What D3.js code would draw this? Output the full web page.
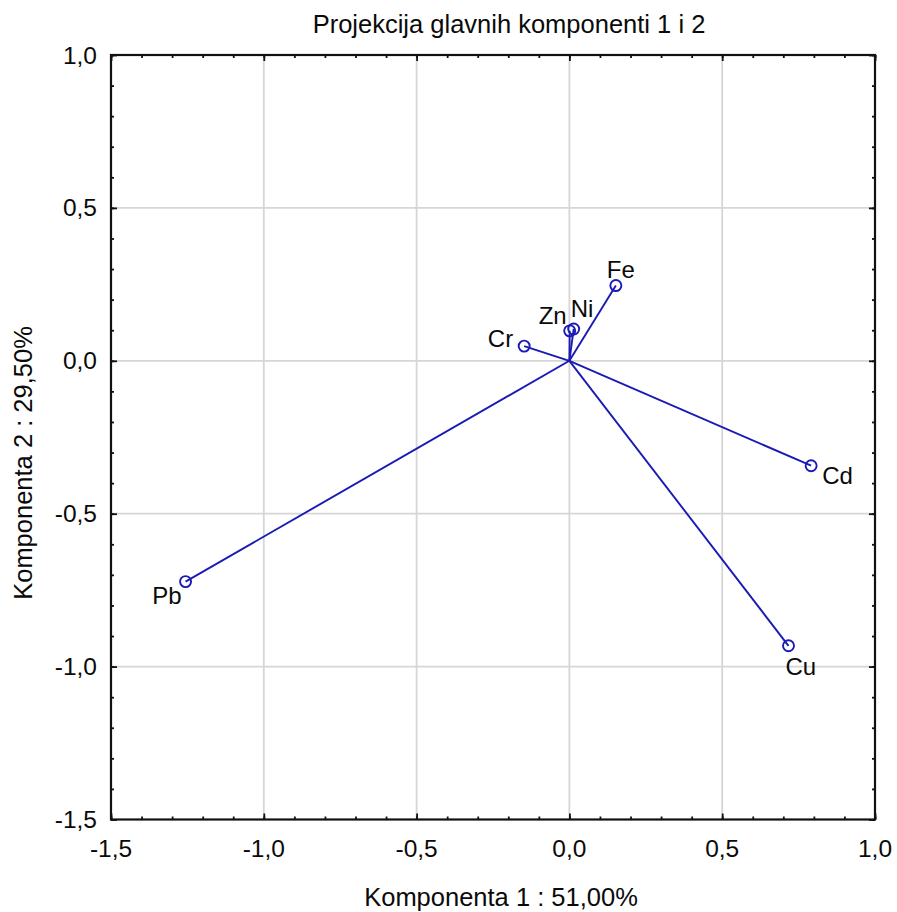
<!DOCTYPE html>
<html>
<head>
<meta charset="utf-8">
<script src="https://cdn.jsdelivr.net/npm/d3@7"></script>
<style>
  html, body { margin: 0; padding: 0; background: #fff; }
  text { font-family: "Liberation Sans", Arial, sans-serif; fill: #0a0a0a; }
</style>
</head>
<body>
<svg id="chart" width="897" height="912"></svg>
<script>
// ---- data ----
const variables = ["Pb", "Cu", "Cd", "Fe", "Cr", "Zn", "Ni"];
const comp1 = [-1.256, 0.717, 0.791, 0.152, -0.148, 0.001, 0.014];
const comp2 = [-0.722, -0.932, -0.343, 0.246, 0.048, 0.098, 0.104];
const xTicks = [-1.5, -1.0, -0.5, 0.0, 0.5, 1.0];
const yTicks = [-1.5, -1.0, -0.5, 0.0, 0.5, 1.0];
const titleText = "Projekcija glavnih komponenti 1 i 2";
const xTitle = "Komponenta 1 : 51,00%";
const yTitle = "Komponenta 2 : 29,50%";

// label placement (offsets from point, anchor)
const labelPos = {
  Pb: { dx: -4, dy: 22, anchor: "end" },
  Cu: { dx: -3, dy: 29, anchor: "start" },
  Cd: { dx: 11, dy: 18, anchor: "start" },
  Fe: { dx: -9, dy: -8, anchor: "start" },
  Cr: { dx: -11, dy: 1, anchor: "end" },
  Zn: { dx: -3, dy: -7, anchor: "end" },
  Ni: { dx: -3, dy: -12, anchor: "start" }
};

const svg = d3.select("#chart");
const pL = 111, pR = 875, pT = 55, pB = 819.5;
const x = d3.scaleLinear().domain([-1.5, 1.0]).range([pL, pR]);
const y = d3.scaleLinear().domain([-1.5, 1.0]).range([pB, pT]);
const fmt = v => d3.format(".1f")(v).replace(".", ",").replace("−", "-");

// gridlines
const gGrid = svg.append("g");
gGrid.selectAll("line.vx").data(xTicks.filter(t => t > -1.5 && t < 1.0)).join("line")
  .attr("x1", d => x(d)).attr("x2", d => x(d)).attr("y1", pT).attr("y2", pB)
  .attr("stroke", "#d6d6d6").attr("stroke-width", 1.8);
gGrid.selectAll("line.hy").data(yTicks.filter(t => t > -1.5 && t < 1.0)).join("line")
  .attr("x1", pL).attr("x2", pR).attr("y1", d => y(d)).attr("y2", d => y(d))
  .attr("stroke", "#d6d6d6").attr("stroke-width", 1.8);

// axes (inward ticks on all four sides)
const minor = d3.range(-15, 11).map(i => i / 10);
function addAxis(axisGen, transform) {
  const g = svg.append("g").attr("transform", transform);
  g.call(axisGen);
  g.select(".domain").remove();
  g.selectAll("text").remove();
  g.selectAll("line").attr("stroke", "#111").attr("stroke-width", 1.8);
  return g;
}
addAxis(d3.axisBottom(x).tickValues(minor).tickSizeInner(-3).tickSizeOuter(0), `translate(0,${pB})`);
addAxis(d3.axisTop(x).tickValues(minor).tickSizeInner(-3).tickSizeOuter(0), `translate(0,${pT})`);
addAxis(d3.axisLeft(y).tickValues(minor).tickSizeInner(-3).tickSizeOuter(0), `translate(${pL},0)`);
addAxis(d3.axisRight(y).tickValues(minor).tickSizeInner(-3).tickSizeOuter(0), `translate(${pR},0)`);
addAxis(d3.axisBottom(x).tickValues(xTicks).tickSizeInner(-6).tickSizeOuter(0), `translate(0,${pB})`);
addAxis(d3.axisTop(x).tickValues(xTicks).tickSizeInner(-6).tickSizeOuter(0), `translate(0,${pT})`);
addAxis(d3.axisLeft(y).tickValues(yTicks).tickSizeInner(-6).tickSizeOuter(0), `translate(${pL},0)`);
addAxis(d3.axisRight(y).tickValues(yTicks).tickSizeInner(-6).tickSizeOuter(0), `translate(${pR},0)`);

// tick labels
svg.append("g").selectAll("text").data(xTicks).join("text")
  .attr("x", d => x(d)).attr("y", 857).attr("text-anchor", "middle")
  .style("font-size", "24.5px").text(fmt);
svg.append("g").selectAll("text").data(yTicks).join("text")
  .attr("x", 97).attr("y", d => y(d) + 8.5).attr("text-anchor", "end")
  .style("font-size", "24.5px").text(fmt);

// frame
svg.append("rect").attr("x", pL).attr("y", pT)
  .attr("width", pR - pL).attr("height", pB - pT)
  .attr("fill", "none").attr("stroke", "#111").attr("stroke-width", 2.2);

// vectors
const data = variables.map((v, i) => ({ name: v, c1: comp1[i], c2: comp2[i] }));
const blue = "#1a1ab4";
svg.append("g").selectAll("line").data(data).join("line")
  .attr("x1", x(0)).attr("y1", y(0))
  .attr("x2", d => x(d.c1)).attr("y2", d => y(d.c2))
  .attr("stroke", blue).attr("stroke-width", 1.9);
svg.append("g").selectAll("circle").data(data).join("circle")
  .attr("cx", d => x(d.c1)).attr("cy", d => y(d.c2)).attr("r", 5.5)
  .attr("fill", "none").attr("stroke", blue).attr("stroke-width", 1.9);
svg.append("g").selectAll("text").data(data).join("text")
  .attr("x", d => x(d.c1) + labelPos[d.name].dx)
  .attr("y", d => y(d.c2) + labelPos[d.name].dy)
  .attr("text-anchor", d => labelPos[d.name].anchor)
  .style("font-size", "24px").text(d => d.name);

// titles
svg.append("text").attr("x", 509).attr("y", 33).attr("text-anchor", "middle")
  .style("font-size", "25.5px").text(titleText);
svg.append("text").attr("x", 501).attr("y", 906).attr("text-anchor", "middle")
  .style("font-size", "25.5px").text(xTitle);
svg.append("text").attr("transform", "translate(32,463) rotate(-90)")
  .attr("text-anchor", "middle").style("font-size", "25.5px").text(yTitle);
</script>
</body>
</html>
